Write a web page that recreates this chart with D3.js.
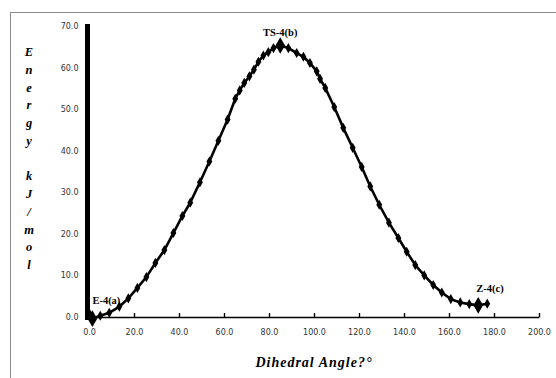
<!DOCTYPE html>
<html>
<head>
<meta charset="utf-8">
<script src="https://cdn.jsdelivr.net/npm/d3@7"></script>
<style>
  body { margin: 0; background: #fff; }
  svg { display: block; }
</style>
</head>
<body>
<svg id="chart" width="556" height="378"></svg>
<script>
// dihedral scan
const angles = [0, 1.5, 5, 9, 13.5, 17.5, 21.5, 25.5, 29.5, 33.5, 37.5, 41.5, 45, 49.3, 53.5, 57.5,
  61.6, 65, 67, 69, 71.3, 73.3, 75.3, 77.5, 79.7, 82, 85, 88.6, 92.3, 95.3, 98.2, 101.2, 102.7,
  105, 109, 113, 117.2, 121.2, 125, 129, 133.3, 137.5, 141.2, 145, 149, 153, 156.8, 160.8,
  165, 169, 173, 177];
const energies = [1.0, -0.4, 0.3, 1.0, 2.5, 4.5, 7.0, 9.6, 13.0, 16.1, 20.2, 24.3, 27.5, 32.4, 37.4, 42.4,
  47.5, 52.5, 54.5, 56.3, 57.9, 59.5, 61.4, 62.9, 63.7, 64.7, 65.3, 64.7, 63.5, 62.6, 61.1, 59.1, 57.3,
  55.1, 50.5, 45.5, 40.7, 36.1, 31.4, 27.0, 22.7, 19.0, 15.7, 12.5, 10.0, 7.7, 5.9, 4.3,
  3.5, 3.1, 2.8, 3.2];
// the three named structures (index into the arrays above)
const stationary = [1, 26, 50];
const stationaryNames = ["E-4(a)", "TS-4(b)", "Z-4(c)"];

const xTicks = d3.range(0, 201, 20);
const yTicks = d3.range(0, 71, 10);
const yTitle = "Energy kJ/mol";

const svg = d3.select("#chart");

// chart area frame
svg.append("rect")
  .attr("x", 10.5).attr("y", 12.5)
  .attr("width", 600).attr("height", 400)
  .attr("fill", "none").attr("stroke", "#8c8c8c").attr("stroke-width", 1);

const x = d3.scaleLinear().domain([0, 200]).range([89, 539]);
const y = d3.scaleLinear().domain([0, 70]).range([317, 26]);

// x axis, ticks pointing up
const xAxis = svg.append("g")
  .attr("transform", `translate(0,${y(0)})`)
  .call(d3.axisBottom(x).tickValues(xTicks).tickSizeInner(-4).tickSizeOuter(0).tickPadding(12)
    .tickFormat(d3.format(".1f")));
xAxis.select(".domain").attr("stroke", "#000").attr("stroke-width", 1.4);
xAxis.selectAll(".tick line").attr("stroke", "#000").attr("stroke-width", 1.4);
xAxis.selectAll("text")
  .attr("font-family", "DejaVu Sans").attr("font-size", 8).attr("fill", "#333");

// y axis: heavy line, no ticks
const yAxis = svg.append("g")
  .attr("transform", `translate(${x(0) - 1.5},0)`)
  .call(d3.axisLeft(y).tickValues(yTicks).tickSize(0).tickPadding(9)
    .tickFormat(d3.format(".1f")));
yAxis.select(".domain").remove();
yAxis.selectAll("text")
  .attr("font-family", "DejaVu Sans").attr("font-size", 8).attr("fill", "#333");
svg.append("line")
  .attr("x1", x(0) - 1.5).attr("x2", x(0) - 1.5)
  .attr("y1", 24).attr("y2", y(0) + 3)
  .attr("stroke", "#000").attr("stroke-width", 5);

// curve
const pts = angles.map((a, i) => [a, energies[i]]);
svg.append("path")
  .datum(pts)
  .attr("fill", "none")
  .attr("stroke", "#000")
  .attr("stroke-width", 2.6)
  .attr("d", d3.line().x(d => x(d[0])).y(d => y(d[1])));

const diamond = d3.symbol().type(d3.symbolDiamond);
svg.selectAll("path.marker")
  .data(pts)
  .enter()
  .append("path")
  .attr("class", "marker")
  .attr("transform", d => `translate(${x(d[0])},${y(d[1])})`)
  .attr("d", (d, i) => diamond.size(stationary.includes(i) ? 80 : 30)())
  .attr("fill", "#000");

// names of the stationary points: dx, dy, anchor
const nameOffsets = [[0, -15, "start"], [0, -10, "middle"], [-2, -13, "start"]];
stationary.forEach((idx, k) => {
  const o = nameOffsets[k];
  svg.append("text")
    .attr("x", x(angles[idx]) + o[0])
    .attr("y", y(energies[idx]) + o[1])
    .attr("text-anchor", o[2])
    .attr("font-family", "Liberation Serif")
    .attr("font-weight", "bold")
    .attr("font-size", 10.5)
    .text(stationaryNames[k]);
});

// y title, one letter per line
svg.append("g").selectAll("text")
  .data(yTitle.split(""))
  .enter()
  .append("text")
  .attr("x", 29)
  .attr("y", (d, i) => 56 + i * 17.75)
  .attr("text-anchor", "middle")
  .attr("font-family", "Liberation Serif")
  .attr("font-weight", "bold")
  .attr("font-style", "italic")
  .attr("font-size", 12.5)
  .text(d => d);

// x title
svg.append("text")
  .attr("x", 314)
  .attr("y", 367)
  .attr("text-anchor", "middle")
  .attr("font-family", "Liberation Serif")
  .attr("font-weight", "bold")
  .attr("font-style", "italic")
  .attr("font-size", 14)
  .attr("letter-spacing", 1)
  .text("Dihedral Angle?°");
</script>
</body>
</html>
